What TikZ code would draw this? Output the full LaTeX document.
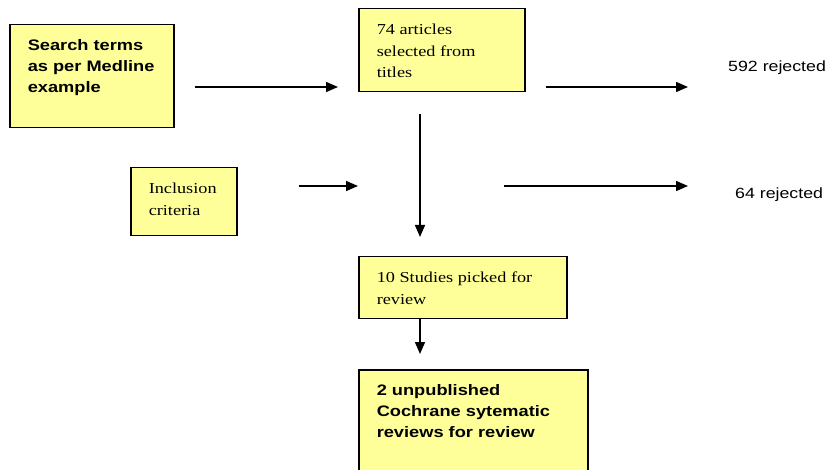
\documentclass[tikz,border=0pt]{standalone}
\usepackage{fontspec}
\usepackage{tikz}
\usetikzlibrary{arrows.meta,positioning,calc}
\newfontfamily\sansfam[FakeStretch=1.2]{Liberation Sans}
\newfontfamily\seriffam[FakeStretch=1.2]{Liberation Serif}
\definecolor{Note}{HTML}{FFFF99}
\definecolor{Ink}{HTML}{000000}
\newcommand{\cardtext}[3]{\parbox[c][#2][t]{#1}{\raggedright\strut#3}}
\tikzset{
  >={Triangle[length=12pt,width=10pt]},
  card/.style={rectangle,draw=Ink,line width=1.5pt,fill=Note,anchor=north west,inner xsep=18pt,inner ysep=11pt},
  boldtxt/.style={font=\sansfam\bfseries\fontsize{15.2}{21}\selectfont},
  plaintxt/.style={font=\seriffam\fontsize{15.2}{21.5}\selectfont},
  outtxt/.style={font=\sansfam\fontsize{14.8}{18}\selectfont,anchor=west,inner sep=0pt},
  flow/.style={->,line width=1.5pt,draw=Ink}
}
\begin{document}
\begin{tikzpicture}[x=1pt,y=-1pt]
    \clip (0,0) rectangle (830,470);
    \node[card,boldtxt] (search) at (9,24) {\cardtext{128pt}{81pt}{Search terms\\as~per~Medline\\example}};
    \node[card,plaintxt] (articles) at (358,8) {\cardtext{130pt}{61pt}{74 articles\\selected from\\titles}};
    \node[card,plaintxt] (incl) at (130,167) {\cardtext{70pt}{46pt}{Inclusion\\criteria}};
    \node[card,plaintxt] (studies) at (358,256) {\cardtext{172pt}{40pt}{10 Studies picked for\\review}};
    \node[card,boldtxt] (unpub) at (358,369) {\cardtext{193pt}{120pt}{2 unpublished\\Cochrane sytematic\\reviews for review}};
    \node[outtxt] (rej1) at (728,68) {592 rejected};
    \node[outtxt] (rej2) at (735,195) {64 rejected};
    \coordinate (row1) at (0,87);
    \coordinate (row2) at (0,186);
    \coordinate (col) at (420,0);
    \draw[flow] ([xshift=20pt]search.east |- row1) -- ([xshift=-20pt]articles.west |- row1);
    \draw[flow] ([xshift=20pt]articles.east |- row1) -- ([xshift=-40pt]rej1.west |- row1);
    \draw[flow] ([yshift=-22pt]articles.south -| col) -- ([yshift=19pt]studies.north -| col);
    \draw[flow] ([xshift=61pt]incl.east |- row2) -- (studies.west |- row2);
    \draw[flow] ([xshift=-64pt]studies.east |- row2) -- ([xshift=-47pt]rej2.west |- row2);
    \draw[flow] (studies.south -| col) -- ([yshift=15pt]unpub.north -| col);
  \end{tikzpicture}
\end{document}
